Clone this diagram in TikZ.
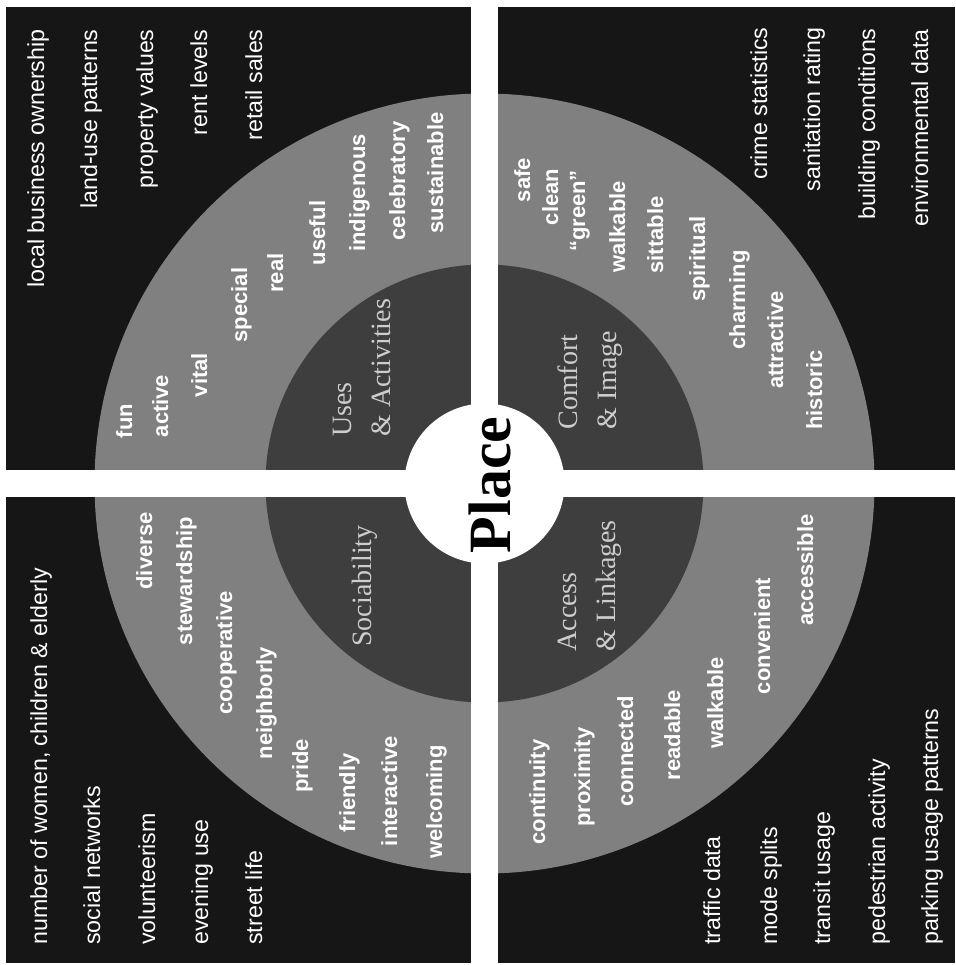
\documentclass[tikz,border=0pt]{standalone}
\usepackage{fontspec}
\setmainfont{Liberation Sans}
\newfontfamily\catfont{Liberation Serif}
\usepackage{xcolor}
\definecolor{quadDark}{RGB}{22,22,22}
\definecolor{ringGrey}{RGB}{128,128,128}
\definecolor{coreGrey}{RGB}{62,62,62}
\definecolor{coreText}{RGB}{205,205,205}

\begin{document}
\begin{tikzpicture}[
    x=0.5pt, y=-0.5pt,
    outerWord/.style={
        rotate=90,
        inner sep=0pt,
        text height=0.72em,
        text depth=0.2em,
        text=white,
        font=\fontsize{11.6}{14}\selectfont
    },
    ringWord/.style={
        rotate=90,
        inner sep=0pt,
        text height=0.72em,
        text depth=0.2em,
        text=white,
        font=\fontsize{11}{13}\selectfont\bfseries
    },
    coreLabel/.style={
        rotate=90,
        inner sep=0pt,
        align=left,
        text=coreText,
        font=\catfont\fontsize{14}{19.5}\selectfont
    }
]

\useasboundingbox (0,0) rectangle (955,965);
\fill[white] (0,0) rectangle (955,965);

% Background and rings
\fill[quadDark] (6,7) rectangle (955,963);
\fill[ringGrey] (484.5,483.5) circle[radius=390];
\fill[coreGrey] (484.5,483.5) circle[radius=219];
\fill[white] (471,0) rectangle (498,965);
\fill[white] (0,470) rectangle (955,497);
\fill[white] (484.5,483.5) circle[radius=80];

\node[rotate=90, inner sep=0pt, anchor=base, font=\catfont\bfseries\fontsize{30}{30}\selectfont] (place) at (510,485) {Place};

% Uses & Activities
\node[coreLabel, anchor=west] (uses) at (362,437) {Uses\\\& Activities};
\node[ringWord] (fun) at (127,421) {fun};
\node[ringWord] (active) at (163,406) {active};
\node[ringWord] (vital) at (202,375) {vital};
\node[ringWord] (special) at (242,305) {special};
\node[ringWord] (real) at (278,273) {real};
\node[ringWord] (useful) at (320,233) {useful};
\node[ringWord] (indigenous) at (360,193) {indigenous};
\node[ringWord] (celebratory) at (400,181) {celebratory};
\node[ringWord] (sustainable) at (438,173) {sustainable};
\node[outerWord, anchor=east] (ownership) at (39,29) {local business ownership};
\node[outerWord, anchor=east] (landuse) at (92,29) {land-use patterns};
\node[outerWord, anchor=east] (property) at (148,29) {property values};
\node[outerWord, anchor=east] (rent) at (202,29) {rent levels};
\node[outerWord, anchor=east] (retail) at (257,29) {retail sales};

% Comfort & Image
\node[coreLabel, anchor=west] (comfort) at (590,430) {Comfort\\\& Image};
\node[ringWord] (safe) at (525,180) {safe};
\node[ringWord] (clean) at (553,197) {clean};
\node[ringWord] (green) at (580,211) {“green”};
\node[ringWord] (walkableA) at (620,227) {walkable};
\node[ringWord] (sittable) at (658,235) {sittable};
\node[ringWord] (spiritual) at (700,259) {spiritual};
\node[ringWord] (charming) at (740,300) {charming};
\node[ringWord] (attractive) at (778,340) {attractive};
\node[ringWord] (historic) at (817,390) {historic};
\node[outerWord, anchor=east] (crime) at (762,27) {crime statistics};
\node[outerWord, anchor=east] (sanitation) at (815,27) {sanitation rating};
\node[outerWord, anchor=east] (building) at (870,28) {building conditions};
\node[outerWord, anchor=east] (environment) at (923,29) {environmental data};

% Sociability
\node[coreLabel] (sociability) at (365,586) {Sociability};
\node[ringWord] (diverse) at (147,551) {diverse};
\node[ringWord] (stewardship) at (187,581) {stewardship};
\node[ringWord] (cooperative) at (227,653) {cooperative};
\node[ringWord] (neighborly) at (267,703) {neighborly};
\node[ringWord] (pride) at (303,766) {pride};
\node[ringWord] (friendly) at (350,793) {friendly};
\node[ringWord] (interactive) at (392,791) {interactive};
\node[ringWord] (welcoming) at (437,802) {welcoming};
\node[outerWord, anchor=west] (women) at (42,945) {number of women, children \& elderly};
\node[outerWord, anchor=west] (networks) at (95,945) {social networks};
\node[outerWord, anchor=west] (volunteerism) at (150,945) {volunteerism};
\node[outerWord, anchor=west] (evening) at (203,945) {evening use};
\node[outerWord, anchor=west] (street) at (257,945) {street life};

% Access & Linkages
\node[coreLabel, anchor=west] (access) at (590,652) {Access\\\& Linkages};
\node[ringWord] (continuity) at (540,792) {continuity};
\node[ringWord] (proximity) at (585,777) {proximity};
\node[ringWord] (connected) at (628,751) {connected};
\node[ringWord] (readable) at (675,735) {readable};
\node[ringWord] (walkableB) at (718,703) {walkable};
\node[ringWord] (convenient) at (765,636) {convenient};
\node[ringWord] (accessible) at (808,570) {accessible};
\node[outerWord, anchor=west] (traffic) at (715,945) {traffic data};
\node[outerWord, anchor=west] (mode) at (772,945) {mode splits};
\node[outerWord, anchor=west] (transit) at (825,945) {transit usage};
\node[outerWord, anchor=west] (pedestrian) at (880,945) {pedestrian activity};
\node[outerWord, anchor=west] (parking) at (933,945) {parking usage patterns};

\end{tikzpicture}
\end{document}
